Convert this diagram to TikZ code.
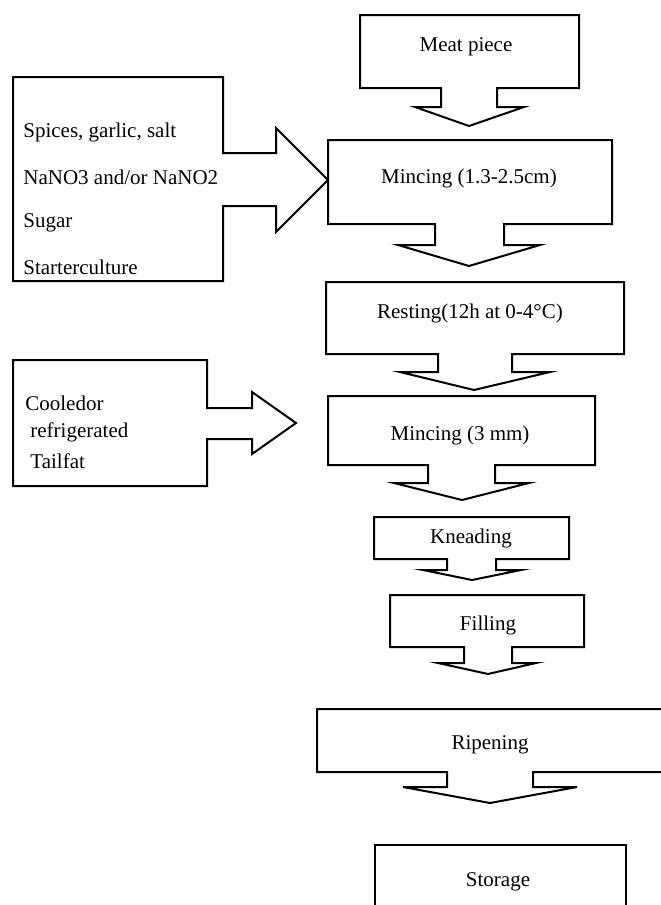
\documentclass[tikz,border=0pt]{standalone}
\usepackage{fontspec}
\setmainfont{Liberation Serif}
\usepackage{tikz}
\tikzset{
  callout/.style={draw=black,line width=1bp,line join=miter},
  steptext/.style={inner sep=0pt,font=\fontsize{10.5bp}{12bp}\selectfont},
}

\begin{document}
\begin{tikzpicture}[x=0.5bp,y=-0.5bp]
        \useasboundingbox (0,0) rectangle (661,905);
        \clip (0,0) rectangle (661,905);
        % down callouts: box, stem, head
        \draw[callout] (360,15) -- (579,15) -- (579,88) -- (497,88) -- (497,107)
            -- (524,107) -- (469,126) -- (415,107) -- (441,107) -- (441,88)
            -- (360,88) -- cycle;
        \draw[callout] (328,140) -- (612,140) -- (612,224) -- (504,224) -- (504,245)
            -- (540,245) -- (469,266) -- (398,245) -- (435,245) -- (435,224)
            -- (328,224) -- cycle;
        \draw[callout] (326,282) -- (624,282) -- (624,354) -- (512,354) -- (512,372)
            -- (550,372) -- (474,390) -- (400,372) -- (438,372) -- (438,354)
            -- (326,354) -- cycle;
        \draw[callout] (328,396) -- (595,396) -- (595,465) -- (495,465) -- (495,483)
            -- (529,483) -- (462,500) -- (394,483) -- (428,483) -- (428,465)
            -- (328,465) -- cycle;
        \draw[callout] (374,517) -- (569,517) -- (569,559) -- (496,559) -- (496,570)
            -- (521,570) -- (472,580) -- (423,570) -- (447,570) -- (447,559)
            -- (374,559) -- cycle;
        \draw[callout] (390,595) -- (584,595) -- (584,647) -- (512,647) -- (512,663)
            -- (536,663) -- (488,674) -- (438,663) -- (464,663) -- (464,647)
            -- (390,647) -- cycle;
        \draw[callout] (317,709) -- (700,709) -- (700,772) -- (533,772) -- (533,787)
            -- (577,787) -- (490,803) -- (403,787) -- (447,787) -- (447,772)
            -- (317,772) -- cycle;
        \draw[callout] (375,940) -- (375,845) -- (626,845) -- (626,940);
        % right callouts
        \draw[callout] (13,77) -- (223,77) -- (223,153) -- (276,153) -- (276,128)
            -- (328,180) -- (276,232) -- (276,206) -- (223,206) -- (223,281)
            -- (13,281) -- cycle;
        \draw[callout] (13,360) -- (207,360) -- (207,408) -- (252,408) -- (252,392)
            -- (296,423) -- (252,454) -- (252,439) -- (207,439) -- (207,486)
            -- (13,486) -- cycle;
        % steps
        \node[steptext] (meat) at (466,47) {Meat piece};
        \node[steptext] (mince1) at (469,178) {Mincing (1.3-2.5cm)};
        \node[steptext] (rest) at (470,313) {Resting(12h at 0-4\textdegree C)};
        \node[steptext] (mince2) at (460,435) {Mincing (3 mm)};
        \node[steptext] (knead) at (471,538) {Kneading};
        \node[steptext] (fill) at (488,625) {Filling};
        \node[steptext] (ripen) at (490,745) {Ripening};
        \node[steptext] (store) at (498,882) {Storage};
        % additions
        \node[steptext, anchor=west] (spices) at (23,132) {Spices, garlic, salt};
        \node[steptext, anchor=west] (nitrate) at (23,177) {NaNO3 and/or NaNO2};
        \node[steptext, anchor=west] (sugar) at (23,223) {Sugar};
        \node[steptext, anchor=west] (starter) at (23,267) {Starterculture};
        \node[steptext, anchor=west] (cool) at (25,403) {Cooledor};
        \node[steptext, anchor=west] (refrig) at (30,432) {refrigerated};
        \node[steptext, anchor=west] (tail) at (30,461) {Tailfat};
\end{tikzpicture}
\end{document}
